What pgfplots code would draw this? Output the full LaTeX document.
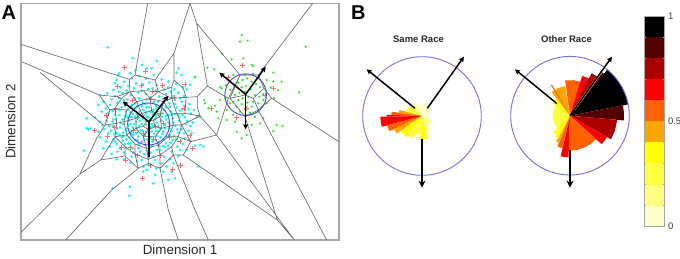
\documentclass[border=0pt]{standalone}
\usepackage{fontspec}
\setmainfont{Liberation Sans}
\usepackage{pgfplots}
\pgfplotsset{compat=1.18}
\usetikzlibrary{arrows.meta}
\definecolor{cA}{RGB}{255,255,204}
\definecolor{cB}{RGB}{255,255,128}
\definecolor{cC}{RGB}{255,255,64}
\definecolor{cD}{RGB}{255,255,0}
\definecolor{cE}{RGB}{255,165,0}
\definecolor{cF}{RGB}{255,96,0}
\definecolor{cG}{RGB}{255,0,0}
\definecolor{cH}{RGB}{170,0,0}
\definecolor{cI}{RGB}{85,0,0}
\definecolor{cJ}{RGB}{0,0,0}
\definecolor{meshc}{RGB}{105,105,105}
\definecolor{frameg}{RGB}{165,165,165}
\definecolor{circ}{RGB}{70,70,235}
\definecolor{circb}{RGB}{110,110,235}
\definecolor{cya}{RGB}{20,245,245}
\definecolor{grn}{RGB}{30,240,30}
\definecolor{plusr}{RGB}{255,105,105}
\tikzset{bigarrow/.style={black,line width=1.5pt,-{Stealth[length=5pt,width=5pt,inset=0.6pt]}}}
\pgfplotsset{rose/.style={scale only axis,width=153.33pt,height=153.33pt,xmin=-230,xmax=230,ymin=-230,ymax=230,
  axis lines=none,clip=false,anchor=center,
  every axis title/.style={at={(0.5,1)},anchor=center,xshift=-3.5pt,font=\fontsize{9.5}{11}\selectfont\bfseries,text=black!85}},
  wedge/.style={draw=none,fill=#1,data cs=polar}}
\begin{document}
\begin{tikzpicture}[x=1pt,y=1pt]
\path[use as bounding box] (0,0) rectangle (680,258);
\node[anchor=base west,inner sep=0pt,font=\fontsize{20}{20}\selectfont\bfseries] at (1.5,238.5) {A};
\node[anchor=base west,inner sep=0pt,font=\fontsize{20}{20}\selectfont\bfseries] at (351,238.5) {B};
\begin{axis}[scale only axis,width=318pt,height=236.67pt,at={(21pt,18pt)},anchor=south west,
  xmin=63,xmax=1017,ymin=10,ymax=720,y dir=reverse,xtick=\empty,ytick=\empty,clip mode=individual,
  axis line style={frameg,line width=1.1pt},unbounded coords=jump,
  xlabel={Dimension 1},ylabel={Dimension 2},
  every axis x label/.style={at={(0.5,0)},anchor=north,yshift=-1pt,font=\fontsize{13.4}{15}\selectfont,text=black!85},
  every axis y label/.style={at={(0,0.5)},rotate=90,anchor=south,yshift=2pt,font=\fontsize{13.4}{15}\selectfont,text=black!85}]
% cyan points
\addplot[only marks,mark=*,mark size=1.15pt,cya,mark options={draw=none,fill=cya}] coordinates {
(323,142)(398,175)(427,195)(470,183)(455,205)(440,205)(407,210)(357,220)(350,240)(390,220)(535,205)(545,225)(530,218)(570,255)(560,268)(585,232)
(300,285)(295,315)(260,355)(252,452)(265,388)(272,385)(260,385)(338,565)(390,560)(388,587)(430,515)(430,500)(460,550)(505,540)(525,535)(595,500)
(610,440)(600,435)(585,437)(560,450)(520,490)(465,525)(440,510)(355,225)(345,250)(372,245)(395,235)(418,228)(438,235)(462,225)(485,238)(505,245)
(528,252)(548,262)(340,270)(362,262)(385,258)(408,250)(428,252)(448,248)(470,255)(492,268)(512,275)(535,278)(552,288)(322,280)(345,288)(368,280)
(392,285)(415,278)(438,282)(458,265)(478,290)(498,282)(525,300)(545,305)(568,312)(582,330)(310,305)(330,315)(352,308)(372,302)(395,315)(418,295)
(440,298)(462,305)(485,315)(508,310)(530,322)(552,318)(572,340)(590,352)(305,335)(325,340)(345,345)(365,322)(385,330)(405,325)(425,318)(448,322)
(470,325)(492,330)(512,335)(535,345)(555,352)(578,368)(285,352)(300,365)(320,362)(338,365)(358,345)(378,345)(398,342)(418,335)(438,338)(458,340)
(478,342)(498,348)(518,355)(538,362)(558,372)(295,395)(312,388)(332,392)(352,385)(370,372)(388,362)(408,365)(428,355)(445,352)(465,358)(485,362)
(505,368)(525,378)(545,388)(565,392)(300,412)(318,425)(340,418)(358,405)(378,392)(398,382)(418,378)(438,375)(455,372)(475,378)(495,385)(515,392)
(535,398)(555,415)(310,445)(330,440)(350,432)(368,422)(388,412)(408,400)(428,392)(448,395)(468,392)(488,402)(508,405)(528,418)(548,432)(335,462)
(352,455)(372,458)(392,430)(412,420)(432,418)(452,412)(472,408)(492,420)(512,428)(532,440)(350,478)(372,478)(395,470)(415,445)(435,435)(455,438)
(475,428)(495,442)(515,455)(535,468)(392,488)(412,485)(432,462)(452,458)(472,450)(492,470)(510,478)(425,480)(445,472)(465,480)(485,490)(500,500)
(445,495)(468,505)(490,515)(515,515)(375,350)(385,375)(395,400)(405,350)(415,410)(425,372)(435,405)(445,385)(455,395)(465,345)(475,395)(485,350)
(495,375)(505,345)(410,385)(420,345)(430,330)(440,350)(450,362)(460,378)(470,368)(480,385)(490,395)(500,410)(400,405)(390,395)(380,418)(370,398)
(360,382)(350,400)(340,378)(405,310)(435,312)(475,305)(510,320)(525,342)(395,352)(420,362)(438,395)(458,425)(478,438)(415,432)(398,445)(375,432)
(392,338)(412,342)(432,345)(452,335)(472,335)(498,358)(508,385)(422,392)(402,372)(382,352)(442,418)(462,402)(482,412)(392,372)(412,398)(452,382)
(428,308)(468,318)(498,322)(375,312)(358,330)(338,332)(368,358)(348,358)(540,332)(562,362)(522,408)(505,438)(360,445)(380,445)(342,402)(328,378)
(335,298)(358,295)(382,298)(405,295)(452,292)(490,298)(518,288)(540,295)(318,325)(340,358)(362,368)(400,330)(415,352)(438,362)(468,350)(488,340)
(515,345)(548,345)(532,388)(552,400)(518,420)(498,430)(480,450)(460,470)(440,452)(420,455)(400,458)(385,430)(365,412)(345,425)(325,400)(308,375)
(460,330)(440,322)(478,322)(395,322)(412,318)(378,335)(390,350)(380,385)(370,410)(405,420)(425,425)(445,428)(468,420)(490,438)(520,368)(538,352)
(425,272)(445,268)(468,272)(402,265)(380,272)(358,275)(505,262)(522,268)(500,295)(525,312)(548,328)(565,328)(572,378)(575,400)(568,420)(540,450)
};
% green points
\addplot[only marks,mark=*,mark size=0.9pt,grn,mark options={draw=none,fill=grn}] coordinates {
(725,105)(720,125)(743,122)(917,140)(667,162)(695,178)(730,175)(622,203)(643,208)(585,230)(755,195)(760,198)(897,277)(845,245)(820,218)(820,245)
(835,270)(822,295)(665,265)(660,260)(612,300)(615,310)(625,325)(650,335)(680,330)(655,355)(680,360)(700,345)(740,345)(775,335)(790,300)(800,310)
(830,375)(848,378)(820,393)(755,375)(725,415)(740,405)(710,395)(705,365)(600,350)(678,255)(690,270)(702,262)(715,248)(728,240)(742,235)(755,245)
(768,252)(780,262)(725,262)(738,258)(752,268)(765,285)(778,290)(790,282)(705,285)(718,278)(735,275)(700,305)(715,300)(728,295)(745,290)(760,305)
(775,310)(785,322)(710,320)(725,312)(742,308)(755,320)(720,335)(735,328)(750,338)(765,350)(690,310)(675,295)(660,300)(645,318)(800,240)(812,262)
(760,222)(735,225)(700,225)(685,240)(790,355)(780,370)
};
% red pluses
\addplot[only marks,mark=+,mark size=2.5pt,plusr,mark options={line width=0.8pt}] coordinates {
(372,203)(437,215)(555,253)(488,255)(458,275)(423,255)(353,258)(397,300)(450,297)(522,293)(345,328)(318,345)(342,382)(282,390)(323,410)(413,352)
(480,340)(552,325)(570,405)(577,445)(540,425)(508,412)(460,418)(365,443)(392,443)(413,465)(480,465)(375,482)(450,495)(541,497)(517,507)(428,535)
(467,380)(490,370)(430,400)(400,390)(635,325)(727,197)(685,232)(820,265)(795,285)(710,352)(740,325)
};
% cell boundaries
\addplot[meshc,line width=0.65pt] coordinates {
(63,133)(388,238)(405,225)(465,240)(522,160)(570,10)(590,70)(622,258)(592,290)(558,292) (nan,nan)
(443,10)(405,225) (nan,nan)
(65,185)(298,285)(350,290)(390,275)(388,238) (nan,nan)
(120,217)(310,375) (nan,nan)
(63,697)(240,522)(290,415)(315,375)(330,330)(298,285) (nan,nan)
(240,522)(302,480)(375,468)(415,505)(335,570)(197,720) (nan,nan)
(415,505)(445,490)(480,505)(505,630)(535,720) (nan,nan)
(480,505)(520,465)(585,630)(625,720) (nan,nan)
(520,465)(550,465)(832,660)(883,720) (nan,nan)
(550,465)(572,425)(650,405)(883,720) (nan,nan)
(572,425)(545,375)(600,348)(650,405) (nan,nan)
(592,290)(592,320)(600,348)(555,340)(558,292) (nan,nan)
(522,160)(522,240)(550,265)(558,292) (nan,nan)
(590,70)(720,225)(685,295)(622,258) (nan,nan)
(685,295)(650,405) (nan,nan)
(938,10)(775,225)(720,225) (nan,nan)
(775,225)(792,265)(815,295)(1017,425) (nan,nan)
(720,225)(690,295)(735,285)(760,295)(792,265) (nan,nan)
(760,295)(775,330)(980,720) (nan,nan)
(815,295)(775,330)(735,350)(690,295) (nan,nan)
(735,350)(832,660) (nan,nan)
(390,275)(430,272)(475,275)(515,295)(530,340)(545,375)(535,410)(515,440)(480,465)(445,478)(405,462)(375,440)(345,410)(350,370)(345,325)(365,295)(390,275) (nan,nan)
(515,295)(558,292) (nan,nan)
(475,275)(465,240) (nan,nan)
(475,275)(515,262)(522,240) (nan,nan)
(515,262)(515,295) (nan,nan)
(530,340)(555,340) (nan,nan)
(535,410)(572,425) (nan,nan)
(515,440)(520,465) (nan,nan)
(480,465)(480,505) (nan,nan)
(445,478)(445,490) (nan,nan)
(405,462)(415,505) (nan,nan)
(375,440)(375,468) (nan,nan)
(345,410)(302,480) (nan,nan)
(350,370)(315,375) (nan,nan)
(345,325)(330,330) (nan,nan)
(365,295)(350,290) (nan,nan)
(410,305)(450,295)(490,305)(515,340)(520,375)(505,410)(475,435)(440,445)(405,432)(380,405)(372,365)(380,330)(410,305) (nan,nan)
(410,305)(390,275) (nan,nan)
(450,295)(430,272) (nan,nan)
(450,295)(475,275) (nan,nan)
(490,305)(515,295) (nan,nan)
(515,340)(530,340) (nan,nan)
(520,375)(545,375) (nan,nan)
(505,410)(535,410) (nan,nan)
(475,435)(480,465) (nan,nan)
(440,445)(445,478) (nan,nan)
(405,432)(405,462) (nan,nan)
(380,405)(345,410) (nan,nan)
(372,365)(350,370) (nan,nan)
(380,330)(345,325) (nan,nan)
(425,340)(455,332)(480,350)(485,385)(465,410)(430,410)(408,385)(408,355)(425,340) (nan,nan)
(425,340)(410,305) (nan,nan)
(455,332)(450,295) (nan,nan)
(480,350)(490,305) (nan,nan)
(485,385)(520,375) (nan,nan)
(465,410)(475,435) (nan,nan)
(430,410)(440,445) (nan,nan)
(408,385)(380,405) (nan,nan)
(408,355)(372,365) (nan,nan)
(440,365)(460,360)(465,380)(445,390)(430,378)(440,365) (nan,nan)
(440,365)(425,340) (nan,nan)
(460,360)(480,350) (nan,nan)
(465,380)(485,385) (nan,nan)
(445,390)(430,410) (nan,nan)
(430,378)(408,385)
};
\draw[circ,line width=0.9pt] (axis cs:446,372) circle [radius=21pt];
\draw[circ,line width=0.9pt] (axis cs:737,284) circle [radius=20.8pt];
\addplot[bigarrow] coordinates {(447,365)(368,305)};
\addplot[bigarrow] coordinates {(447,365)(505,287)};
\addplot[black,line width=1.7pt] coordinates {(447,365)(447,472)};
\addplot[bigarrow] coordinates {(737,283)(658,218)};
\addplot[bigarrow] coordinates {(737,283)(797,200)};
\addplot[bigarrow] coordinates {(737,283)(737,388)};
\end{axis}
% Same Race
\begin{axis}[rose,at={(422pt,142pt)},title={Same Race}]
\addplot[wedge=cA] coordinates {(0,0)(-10,22)(8,22)(25,22)};
\addplot[wedge=cA] coordinates {(0,0)(25,38)(70,38)(115,38)};
\addplot[wedge=cB] coordinates {(0,0)(115,38)(128,38)(140,38)};
\addplot[wedge=cC] coordinates {(0,0)(140,50)(152,50)(165,50)};
\addplot[wedge=cE] coordinates {(0,0)(165,70)(169,70)(172,70)};
\addplot[wedge=cF] coordinates {(0,0)(172,92)(175,92)(178,92)};
\addplot[wedge=cG] coordinates {(0,0)(178,106)(180,106)(181,106)};
\addplot[wedge=cG] coordinates {(0,0)(181,125)(188,125)(195,125)};
\addplot[wedge=cF] coordinates {(0,0)(195,108)(200,108)(205,108)};
\addplot[wedge=cE] coordinates {(0,0)(205,92)(210,92)(215,92)};
\addplot[wedge=cD] coordinates {(0,0)(215,78)(225,78)(235,78)};
\addplot[wedge=cC] coordinates {(0,0)(235,72)(242,72)(250,72)};
\addplot[wedge=cD] coordinates {(0,0)(265,70)(275,70)(285,70)};
\addplot[wedge=cC] coordinates {(0,0)(250,55)(258,55)(265,55)};
\addplot[wedge=cB] coordinates {(0,0)(285,48)(292,48)(300,48)};
\addplot[wedge=cB] coordinates {(0,0)(300,32)(318,32)(335,32)};
\addplot[wedge=cA] coordinates {(0,0)(335,20)(342,20)(350,20)};
\draw[circb,line width=0.9pt] (axis cs:0,0) circle [radius=59.3pt];
\addplot[bigarrow] coordinates {(-21,23)(-166,140)};
\addplot[bigarrow] coordinates {(16,23)(126,178)};
\addplot[bigarrow,-{Stealth[length=7pt,width=7pt]}] coordinates {(0,-70)(0,-215)};
\end{axis}
% Other Race
\begin{axis}[rose,at={(570pt,142.3pt)},title={Other Race}]
\addplot[wedge=cC] coordinates {(0,0)(145,53)(170,53)(190,53)(215,53)(235,53)};
\addplot[wedge=cD] coordinates {(0,0)(128,65)(136,65)(145,65)};
\addplot[wedge=cD] coordinates {(0,0)(225,70)(230,70)(235,70)};
\addplot[wedge=cE] coordinates {(0,0)(100,90)(114,90)(128,90)};
\addplot[wedge=cF] coordinates {(0,0)(120,108)(121,108)(122,108)};
\addplot[wedge=cF] coordinates {(0,0)(71,107)(84,107)(98,107)};
\addplot[wedge=cG] coordinates {(0,0)(60,125)(66,125)(73,125)};
\addplot[wedge=cH] coordinates {(0,0)(55,143)(59,143)(63,143)};
\addplot[wedge=cI] coordinates {(0,0)(51,162)(53,162)(55,162)};
\addplot[wedge=cJ] coordinates {(0,0)(11,178)(21,178)(31,178)(41,178)(51,178)};
\addplot[wedge=cI] coordinates {(0,0)(-5,162)(3,162)(11,162)};
\addplot[wedge=cH] coordinates {(0,0)(-30,142)(-18,142)(-5,142)};
\addplot[wedge=cG] coordinates {(0,0)(-42,128)(-36,128)(-30,128)};
\addplot[wedge=cF] coordinates {(0,0)(-92,105)(-80,105)(-67,105)(-55,105)(-42,105)};
\addplot[wedge=cG] coordinates {(0,0)(-103,125)(-98,125)(-92,125)};
\addplot[wedge=cF] coordinates {(0,0)(-112,100)(-108,100)(-103,100)};
\addplot[wedge=cE] coordinates {(0,0)(-118,88)(-115,88)(-112,88)};
\addplot[wedge=cD] coordinates {(0,0)(-125,77)(-122,77)(-118,77)};
\draw[circb,line width=0.9pt] (axis cs:0,0) circle [radius=59.3pt];
\addplot[bigarrow] coordinates {(-40,37)(-165,139)};
\addplot[white,line width=1.9pt] coordinates {(12,17)(115,160)};
\addplot[bigarrow] coordinates {(0,0)(126,177)};
\addplot[bigarrow,-{Stealth[length=7pt,width=7pt]}] coordinates {(0,-103)(0,-216)};
\end{axis}
% colour bar
\begin{axis}[scale only axis,width=19.33pt,height=210.67pt,at={(644.67pt,31.33pt)},anchor=south west,
  xmin=0,xmax=1,ymin=0,ymax=1,xtick=\empty,
  ytick={0,0.1,0.2,0.3,0.4,0.5,0.6,0.7,0.8,0.9,1},
  yticklabels={0,,,,,0.5,,,,,1},yticklabel pos=right,
  tick align=inside,major tick length=1.5pt,tick style={frameg,line width=0.5pt},
  axis on top,axis line style={frameg,line width=0.8pt},
  yticklabel style={font=\fontsize{9.5}{10}\selectfont,text=black!75,xshift=0.5pt}]
\addplot[fill=cA,draw=none] coordinates {(0,0)(1,0)(1,0.1)(0,0.1)} --cycle;
\addplot[fill=cB,draw=none] coordinates {(0,0.1)(1,0.1)(1,0.2)(0,0.2)} --cycle;
\addplot[fill=cC,draw=none] coordinates {(0,0.2)(1,0.2)(1,0.3)(0,0.3)} --cycle;
\addplot[fill=cD,draw=none] coordinates {(0,0.3)(1,0.3)(1,0.4)(0,0.4)} --cycle;
\addplot[fill=cE,draw=none] coordinates {(0,0.4)(1,0.4)(1,0.5)(0,0.5)} --cycle;
\addplot[fill=cF,draw=none] coordinates {(0,0.5)(1,0.5)(1,0.6)(0,0.6)} --cycle;
\addplot[fill=cG,draw=none] coordinates {(0,0.6)(1,0.6)(1,0.7)(0,0.7)} --cycle;
\addplot[fill=cH,draw=none] coordinates {(0,0.7)(1,0.7)(1,0.8)(0,0.8)} --cycle;
\addplot[fill=cI,draw=none] coordinates {(0,0.8)(1,0.8)(1,0.9)(0,0.9)} --cycle;
\addplot[fill=cJ,draw=none] coordinates {(0,0.9)(1,0.9)(1,1)(0,1)} --cycle;
\end{axis}
\end{tikzpicture}
\end{document}
